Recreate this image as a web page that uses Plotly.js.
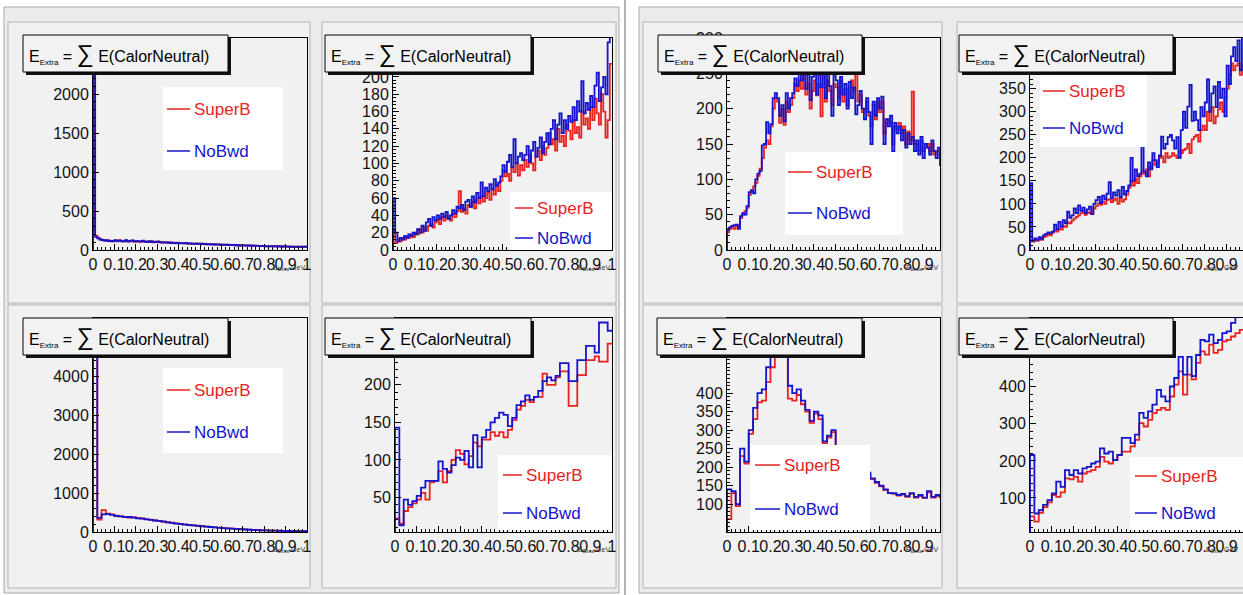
<!DOCTYPE html>
<html><head><meta charset="utf-8">
<script src="https://cdn.plot.ly/plotly-3.0.1.min.js"></script>
<style>html,body{margin:0;padding:0;background:#fff;}#chart{width:1243px;height:595px;}</style>
</head><body><div id="chart"></div>
<script>
// ---------------- DATA (bin contents, E_Extra from 0 to 1 GeV) ----------------
const seriesNames = ["SuperB", "NoBwd"];
const xTickLabels = ["0","0.1","0.2","0.3","0.4","0.5","0.6","0.7","0.8","0.9","1"];
const yTicksG = [100, 150, 200, 250, 300, 350, 400];

// Left canvas, top-left (100 bins)
const superB_A = [2600,185,160,140,130,125,118,122,110,115,120,112,125,118,108,122,115,110,120,105,118,112,104,118,110,100,108,115,98,104,110,96,102,94,100,90,98,92,86,95,88,90,84,92,80,86,82,78,85,80,76,82,74,78,72,76,70,74,68,72,66,70,64,68,62,66,60,64,58,62,60,56,60,54,58,52,56,50,54,52,48,52,46,50,48,44,50,46,42,48,44,42,46,40,44,42,38,44,40,42];
const noBwd_A = [3200,170,150,135,128,120,125,115,118,112,125,118,120,112,115,125,108,116,122,110,114,108,110,120,104,106,112,100,108,102,106,100,96,98,94,96,90,95,88,92,86,88,86,90,82,84,80,82,80,78,80,76,78,74,76,70,74,70,72,66,70,66,68,62,66,62,64,58,62,58,60,58,56,58,52,56,52,54,50,54,50,48,50,46,50,46,48,44,48,44,46,44,42,44,40,44,40,42,40,42];
// Left canvas, top-right (100 bins)
const superB_B = [22,8,12,10,14,12,16,14,18,15,20,18,24,20,26,22,28,30,26,32,35,30,38,34,40,36,34,42,38,45,68,44,48,42,52,50,56,48,58,54,62,56,60,66,58,70,64,75,68,80,92,85,88,80,95,90,100,86,98,92,104,96,110,100,92,108,115,104,120,110,118,135,122,128,115,140,125,132,120,145,138,128,150,135,142,130,160,145,152,140,165,150,175,158,145,180,160,130,150,215];
const noBwd_B = [60,20,10,14,12,16,14,18,16,20,18,24,20,28,22,32,36,28,38,34,40,36,42,38,44,36,40,46,42,50,48,52,46,56,58,50,62,55,66,60,78,62,72,68,76,70,82,74,78,85,98,90,102,110,96,128,100,108,112,104,110,120,102,115,125,108,118,130,112,125,135,122,140,150,128,145,158,135,150,140,155,148,165,150,172,160,195,158,170,162,178,165,190,205,172,188,200,180,240,250];
// Left canvas, bottom-left (50 bins)
const superB_C = [5800,320,560,470,450,420,400,390,370,380,360,350,330,320,300,280,270,250,240,220,210,195,180,170,160,150,140,130,120,110,100,95,88,80,72,66,60,54,50,45,42,38,35,32,30,28,26,24,22,20];
const noBwd_C = [6000,360,450,460,440,410,400,380,385,370,350,345,325,310,295,285,265,245,235,215,205,190,178,168,155,148,136,128,118,108,98,92,86,78,70,64,58,52,48,44,40,37,34,31,29,27,25,23,21,19];
// Left canvas, bottom-right (50 bins)
const superB_D = [22,15,32,37,42,47,56,47,70,72,85,70,85,100,113,108,94,105,123,118,127,127,137,132,137,130,140,153,167,172,180,177,184,184,215,200,200,210,218,218,172,172,213,213,233,233,238,231,231,255];
const noBwd_D = [143,13,47,40,45,52,63,72,72,72,98,88,83,93,103,100,112,90,133,90,130,140,150,156,163,160,145,156,173,178,186,180,184,192,205,210,206,212,229,229,205,205,233,233,252,252,243,283,283,272];
// Right canvas, top-left (100 bins)
const superB_E = [25,30,33,30,35,32,45,50,55,60,78,85,90,95,105,115,130,145,155,150,175,200,215,210,180,200,177,210,195,205,215,235,225,240,228,250,220,235,200,225,240,219,235,189,250,210,240,225,205,235,230,215,240,210,228,205,230,240,225,265,210,220,195,200,210,190,175,205,185,210,195,210,165,180,185,180,150,175,170,180,165,175,150,168,155,224,150,150,140,155,140,145,150,140,150,135,140,140,125,130];
const noBwd_E = [28,32,34,35,36,30,48,52,50,62,82,84,80,100,108,112,148,150,181,165,178,215,222,215,190,205,182,222,200,215,222,243,232,250,240,255,228,250,212,245,255,220,248,230,258,215,250,232,190,248,240,205,245,220,235,200,238,215,230,192,205,225,200,185,215,195,150,210,190,215,200,217,150,185,175,190,140,180,165,175,155,170,145,165,150,160,140,155,135,160,130,150,145,135,155,140,130,145,120,135];
// Right canvas, top-right (100 bins)
const superB_F = [20,18,22,20,25,22,28,30,34,32,38,42,40,46,44,52,50,60,58,64,68,72,75,80,85,76,82,80,78,90,95,101,98,105,100,109,110,104,108,112,100,112,105,110,120,135,150,140,155,145,160,170,165,175,160,180,195,185,190,200,203,190,210,200,203,210,205,200,215,210,217,220,230,210,240,246,250,235,260,270,260,300,280,310,275,290,305,320,300,330,350,380,405,390,400,405,380,400,390,410];
const noBwd_F = [145,20,25,22,28,24,32,35,38,36,40,55,45,61,50,65,58,83,70,75,90,80,97,85,92,80,88,94,78,100,108,115,102,118,110,122,147,112,125,118,130,115,137,120,128,140,200,150,175,160,165,225,170,160,190,175,210,195,180,205,246,220,230,245,250,238,220,245,200,260,300,265,311,358,280,300,282,260,310,290,320,370,300,340,355,310,365,330,350,290,400,360,420,440,410,455,390,470,430,460];
// Right canvas, bottom-left (50 bins)
const superB_G = [60,130,95,230,210,290,330,375,380,430,470,510,530,535,385,380,395,370,350,320,345,330,265,280,295,245,248,235,220,200,210,190,180,168,158,148,138,130,128,123,126,120,128,118,122,117,132,118,122,118];
const noBwd_G = [140,135,100,250,215,300,360,400,410,470,520,545,560,550,420,400,410,380,355,325,350,340,270,285,300,245,245,240,225,200,215,195,185,170,160,150,140,130,130,125,128,122,130,120,125,118,135,120,125,120];
// Right canvas, bottom-right (50 bins)
const superB_H = [50,36,60,75,88,108,103,115,153,150,157,144,166,171,175,184,211,198,193,202,216,225,225,239,257,302,293,311,329,338,343,338,374,406,442,379,433,420,465,496,487,514,492,500,523,527,536,545,554,560];
const noBwd_H = [216,58,67,81,94,112,144,130,175,162,175,166,180,184,193,198,234,220,225,202,216,262,262,248,271,330,316,334,352,392,374,361,401,424,481,433,481,429,486,527,523,541,518,527,545,550,573,590,590,600];

// ---------------- LAYOUT ----------------
const W = 1243, H = 595;
const fx = X => X / W;
const fy = Y => 1 - Y / H;
const RED = '#e8231f', BLUE = '#1414cc';
const FONT = 'Liberation Sans, Arial, sans-serif';

const panels = [
  {red: superB_A, blue: noBwd_A, frame: [93, 307, 38, 250], xr: [0, 1], yr: [0, 2720], dy: 500, my: 100,
   title: [23, 228, 35, 72], leg: [163, 283, 87, 170], rows: [109, 151], line: [167, 190]},
  {red: superB_B, blue: noBwd_B, frame: [393, 612, 38, 250], xr: [0, 1], yr: [0, 245], dy: 20, my: 4,
   title: [325, 531, 35, 72], leg: [510, 612, 192, 250], rows: [208, 238], line: [515, 533]},
  {red: superB_C, blue: noBwd_C, frame: [93, 307, 318, 532], xr: [0, 1], yr: [0, 5490], dy: 1000, my: 200,
   title: [23, 228, 318, 355], leg: [163, 283, 368, 453], rows: [390, 432], line: [167, 190]},
  {red: superB_D, blue: noBwd_D, frame: [395, 612, 318, 532], xr: [0, 1], yr: [4, 289], dy: 50, my: 10,
   title: [325, 531, 318, 355], leg: [498, 612, 455, 530], rows: [475, 513], line: [503, 522]},
  {red: superB_E, blue: noBwd_E, frame: [727, 940, 38, 250], xr: [0, 0.98], yr: [0, 300], dy: 50, my: 10,
   title: [658, 862, 35, 72], leg: [785, 903, 152, 235], rows: [172, 213], line: [788, 812]},
  {red: superB_F, blue: noBwd_F, frame: [1030, 1243, 38, 250], xr: [0, 0.975], yr: [0, 460], dy: 50, my: 10,
   title: [959, 1173, 35, 72], leg: [1040, 1147, 75, 147], rows: [91, 128], line: [1043, 1065]},
  {red: superB_G, blue: noBwd_G, frame: [727, 940, 318, 532], xr: [0, 0.98], yr: [25, 603], dy: 50, my: 10, tv: yTicksG,
   title: [657, 862, 318, 355], leg: [750, 870, 445, 530], rows: [465, 509], line: [755, 780]},
  {red: superB_H, blue: noBwd_H, frame: [1030, 1243, 318, 532], xr: [0, 0.975], yr: [8, 586], dy: 100, my: 20,
   title: [959, 1173, 318, 355], leg: [1130, 1243, 457, 530], rows: [476, 513], line: [1135, 1157]}
];

const pads = [
  [8, 310, 22, 303], [322, 616, 22, 303], [8, 310, 305, 588], [322, 616, 305, 588],
  [643, 942, 22, 303], [957, 1250, 22, 303], [643, 942, 305, 588], [957, 1250, 305, 588]
];

function stepXY(vals) {
  const n = vals.length, x = [0], y = [0];
  for (let i = 0; i < n; i++) { x.push(i / n); y.push(vals[i]); }
  x.push(1); y.push(vals[n - 1]);
  return {x, y};
}

const data = [];
const layout = {
  width: W, height: H, margin: {l: 0, r: 0, t: 0, b: 0},
  paper_bgcolor: '#ffffff', plot_bgcolor: 'rgba(0,0,0,0)', showlegend: false,
  font: {family: FONT, color: '#111'},
  shapes: [], annotations: []
};

const rectShape = (x0, x1, y0, y1, fill, line, lw, layer) => ({
  type: 'rect', xref: 'paper', yref: 'paper', x0: fx(x0), x1: fx(x1), y0: fy(y1), y1: fy(y0),
  fillcolor: fill, line: {color: line, width: lw}, layer: layer || 'below'
});
layout.shapes.push(rectShape(4, 619, 7, 593, '#ebebeb', '#a8a8a8', 1));
layout.shapes.push(rectShape(639, 1250, 7, 593, '#ebebeb', '#a8a8a8', 1));
layout.shapes.push({type: 'line', xref: 'paper', yref: 'paper', x0: fx(625), x1: fx(625), y0: fy(0), y1: fy(595), line: {color: '#9a9a9a', width: 1.5}, layer: 'below'});
pads.forEach(p => layout.shapes.push(rectShape(p[0], p[1], p[2], p[3], '#f1f1f1', '#b4b4b4', 1)));

panels.forEach((p, i) => {
  const k = i + 1, xa = 'x' + (k === 1 ? '' : k), ya = 'y' + (k === 1 ? '' : k);
  const r = stepXY(p.red), b = stepXY(p.blue);
  data.push({type: 'scatter', mode: 'lines', x: r.x, y: r.y, xaxis: xa, yaxis: ya, name: seriesNames[0],
             line: {color: RED, width: 1.8, shape: 'hv'}, hoverinfo: 'skip'});
  data.push({type: 'scatter', mode: 'lines', x: b.x, y: b.y, xaxis: xa, yaxis: ya, name: seriesNames[1],
             line: {color: BLUE, width: 1.8, shape: 'hv'}, hoverinfo: 'skip'});
  const [X0, X1, Y0, Y1] = p.frame;
  layout['xaxis' + (k === 1 ? '' : k)] = {
    domain: [fx(X0), fx(X1)], anchor: ya, range: p.xr, tickmode: 'array',
    tickvals: xTickLabels.map(Number), ticktext: xTickLabels, tickangle: 0,
    ticks: 'inside', ticklen: 6, tickcolor: '#000', tickwidth: 1,
    minor: {dtick: 0.02, ticks: 'inside', ticklen: 3, tickcolor: '#000', tickwidth: 1},
    showline: true, linecolor: '#000', linewidth: 1, mirror: true,
    showgrid: false, zeroline: false, fixedrange: true,
    tickfont: {size: 16, color: '#111', family: FONT}
  };
  const yax = {
    domain: [fy(Y1), fy(Y0)], anchor: xa, range: p.yr,
    ticks: 'inside', ticklen: 6, tickcolor: '#000', tickwidth: 1,
    minor: {dtick: p.my, tick0: 0, ticks: 'inside', ticklen: 3, tickcolor: '#000', tickwidth: 1},
    showline: true, linecolor: '#000', linewidth: 1, mirror: true, exponentformat: 'none',
    showgrid: false, zeroline: false, fixedrange: true,
    tickfont: {size: 16, color: '#111', family: FONT}
  };
  if (p.tv) { yax.tickmode = 'array'; yax.tickvals = p.tv; }
  else { yax.tick0 = 0; yax.dtick = p.dy; }
  layout['yaxis' + (k === 1 ? '' : k)] = yax;
  const [L0, L1, LT, LB] = p.leg;
  layout.shapes.push(rectShape(L0, L1, LT, LB, '#ffffff', 'rgba(0,0,0,0)', 0, 'above'));
  [RED, BLUE].forEach((c, j) => {
    layout.shapes.push({type: 'line', xref: 'paper', yref: 'paper', layer: 'above',
      x0: fx(p.line[0]), x1: fx(p.line[1]), y0: fy(p.rows[j]), y1: fy(p.rows[j]), line: {color: c, width: 1.5}});
    layout.annotations.push({xref: 'paper', yref: 'paper', x: fx(p.line[1] + 2), y: fy(p.rows[j]),
      xanchor: 'left', yanchor: 'middle', showarrow: false, text: seriesNames[j],
      font: {size: 17, color: c, family: FONT}});
  });
  const [T0, T1, TT, TB] = p.title;
  layout.shapes.push(rectShape(T0 + 3, T1 + 3, TT + 3, TB + 3, '#111111', '#111111', 0, 'above'));
  layout.shapes.push(rectShape(T0, T1, TT, TB, '#f2f2f2', '#000000', 1, 'above'));
  layout.annotations.push({xref: 'paper', yref: 'paper', x: fx(T0 + 4), y: fy((TT + TB) / 2),
    xanchor: 'left', yanchor: 'middle', showarrow: false,
    text: 'E<sub><span style="font-size:8px">Extra</span></sub> = <span style="font-size:24px">∑</span> E(CalorNeutral)',
    font: {size: 16, color: '#000', family: FONT}});
  layout.annotations.push({xref: 'paper', yref: 'paper', x: fx(Math.min(X1, 1240)), y: fy(Y1 + 18),
    xanchor: 'right', yanchor: 'middle', showarrow: false,
    text: 'E<sub>Extra</sub> GeV', font: {size: 7, color: '#333'}});
});

Plotly.newPlot('chart', data, layout, {staticPlot: true, displayModeBar: false});
</script></body></html>
